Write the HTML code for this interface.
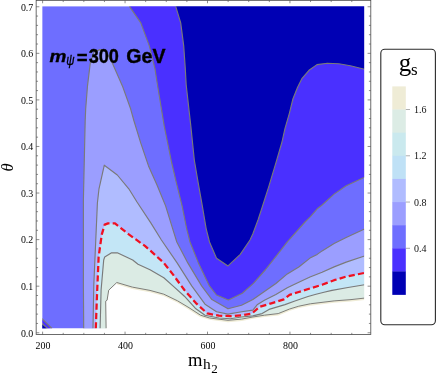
<!DOCTYPE html>
<html><head><meta charset="utf-8"><title>Contour plot</title>
<style>
html,body{margin:0;padding:0;background:#fff;}
body{width:436px;height:373px;overflow:hidden;position:relative;font-family:"Liberation Sans",sans-serif;}
</style></head><body>
<svg width="436" height="373" viewBox="0 0 436 373" style="position:absolute;left:0;top:0;will-change:transform;opacity:0.9999">
<rect x="0" y="0" width="436" height="373" fill="#fff"/>
<g>
<rect x="42.2" y="6.2" width="322.0" height="322.3" fill="#6e6eff"/>
<polygon points="129.4,6.4 140.8,22.9 149.3,45.9 155.0,68.8 157.0,82.0 164.2,125.9 171.5,162.0 176.4,182.9 182.1,205.9 186.7,228.8 190.0,242.0 198.4,262.9 209.4,285.9 216.5,295.0 228.4,300.0 242.3,293.2 253.4,283.4 265.6,269.5 276.6,255.6 287.3,241.8 305.0,222.0 310.0,217.1 317.2,208.8 322.1,205.0 334.1,194.1 346.2,185.7 364.5,177.2 366.2,177.2 366.2,4.2 129.4,4.2" fill="#4a30ff"/>
<polygon points="175.7,6.4 180.7,22.9 183.7,45.9 185.3,68.8 186.2,85.0 190.8,125.9 194.3,160.0 198.2,182.9 202.3,205.9 206.2,228.8 209.5,242.0 216.5,258.3 228.0,265.9 240.3,254.4 250.0,240.0 252.9,233.8 258.0,220.0 261.7,208.8 269.0,185.9 275.9,162.9 282.0,142.0 284.9,128.8 289.5,112.8 292.9,99.0 297.5,87.5 302.1,78.3 309.0,70.3 317.0,64.6 327.3,63.2 338.8,63.7 350.3,65.7 364.5,69.2 366.2,69.2 366.2,4.2 175.7,4.2" fill="#0000b4"/>
<polygon points="83.7,328.5 83.4,285.0 83.4,200.0 85.2,120.0 85.7,108.8 87.5,85.9 90.3,62.9 94.0,52.0 100.0,49.6 106.0,51.0 112.3,62.9 122.4,85.9 130.6,108.8 134.0,121.0 140.7,142.9 148.5,165.9 157.0,185.0 165.6,205.9 172.7,228.8 176.8,242.0 187.8,262.9 201.6,285.9 211.9,299.6 228.0,308.8 241.5,305.3 252.9,299.5 264.4,291.5 275.9,283.5 287.3,273.9 298.8,267.0 310.0,258.1 317.2,254.4 322.1,250.9 334.1,243.6 346.2,237.6 364.5,229.1 366.2,229.1 366.2,330.5 83.7,330.5" fill="#9b9eff"/>
<polygon points="93.0,328.5 93.8,285.0 97.4,203.0 99.0,188.8 104.3,165.2 117.3,175.0 128.8,188.8 137.0,202.0 150.8,222.9 161.4,240.0 177.1,262.9 191.7,285.9 205.0,304.2 216.5,311.8 228.0,314.1 241.7,311.8 252.9,310.1 257.5,304.4 264.4,300.3 275.9,294.5 287.3,287.7 298.8,282.2 310.0,277.0 322.1,272.2 334.1,266.9 346.2,262.1 364.5,256.0 366.2,256.0 366.2,330.5 93.0,330.5" fill="#b0bcff"/>
<polygon points="95.8,328.5 96.8,300.0 98.5,260.0 98.6,257.0 101.8,234.4 104.7,224.6 108.0,223.4 115.0,223.4 128.8,234.4 144.9,245.9 150.0,250.3 163.8,262.9 172.9,274.4 184.4,290.0 195.9,303.1 207.3,313.4 218.8,315.7 230.3,316.1 241.5,315.4 251.8,313.6 259.8,306.7 271.3,303.3 283.9,299.4 289.6,294.8 298.8,292.0 310.3,288.4 322.1,284.8 334.1,280.2 346.2,276.6 364.5,272.9 366.2,272.9 366.2,330.5 95.8,330.5" fill="#c3e6f6"/>
<polygon points="100.1,328.5 101.1,290.0 103.7,260.0 104.7,257.0 111.6,252.8 117.3,252.8 132.7,260.0 138.0,264.2 150.0,269.8 163.8,277.8 172.9,285.9 184.4,296.2 195.9,308.8 205.0,315.2 218.8,318.0 230.3,318.7 241.5,317.0 252.9,315.9 262.1,313.6 269.0,309.4 285.0,304.6 294.2,301.3 300.0,299.2 308.0,296.5 316.0,294.3 324.0,292.3 332.0,290.4 348.0,287.5 364.5,284.8 366.2,284.8 366.2,330.5 100.1,330.5" fill="#dbebe4"/>
<polygon points="106.1,328.5 105.7,301.2 107.1,300.2 108.7,290.2 116.8,282.5 132.3,287.1 150.0,290.4 163.8,294.2 177.5,300.8 189.0,307.7 200.5,315.2 209.6,318.0 228.0,320.3 241.7,319.1 252.9,317.0 264.4,315.2 278.2,313.6 289.6,309.0 298.8,306.2 310.3,303.8 334.1,300.9 351.0,299.6 364.5,298.1 366.2,298.1 366.2,330.5 106.1,330.5" fill="#ffffff"/>
<polyline points="116.8,283.5 132.3,288.1 150.0,291.4 163.8,295.2 177.5,301.8 189.0,308.7 200.5,316.2 209.6,319.0 228.0,321.3 241.7,320.1 252.9,318.0 264.4,316.2 278.2,314.6 289.6,310.0 298.8,307.2 310.3,304.8 334.1,301.9 351.0,300.6 364.5,299.1" fill="none" stroke="#efecd6" stroke-width="1.7" stroke-linejoin="round"/>
<polygon points="41.2,317.9 52,328.5 41.2,329.5" fill="#4a30ff"/>
<polygon points="41.2,322.7 47.6,328.5 41.2,329.5" fill="#0000b4"/>
<polyline points="175.7,6.4 180.7,22.9 183.7,45.9 185.3,68.8 186.2,85.0 190.8,125.9 194.3,160.0 198.2,182.9 202.3,205.9 206.2,228.8 209.5,242.0 216.5,258.3 228.0,265.9 240.3,254.4 250.0,240.0 252.9,233.8 258.0,220.0 261.7,208.8 269.0,185.9 275.9,162.9 282.0,142.0 284.9,128.8 289.5,112.8 292.9,99.0 297.5,87.5 302.1,78.3 309.0,70.3 317.0,64.6 327.3,63.2 338.8,63.7 350.3,65.7 364.5,69.2" fill="none" stroke="#7a7a7a" stroke-width="1.15" stroke-linejoin="round"/>
<polyline points="129.4,6.4 140.8,22.9 149.3,45.9 155.0,68.8 157.0,82.0 164.2,125.9 171.5,162.0 176.4,182.9 182.1,205.9 186.7,228.8 190.0,242.0 198.4,262.9 209.4,285.9 216.5,295.0 228.4,300.0 242.3,293.2 253.4,283.4 265.6,269.5 276.6,255.6 287.3,241.8 305.0,222.0 310.0,217.1 317.2,208.8 322.1,205.0 334.1,194.1 346.2,185.7 364.5,177.2" fill="none" stroke="#7a7a7a" stroke-width="1.15" stroke-linejoin="round"/>
<polyline points="83.7,328.5 83.4,285.0 83.4,200.0 85.2,120.0 85.7,108.8 87.5,85.9 90.3,62.9 94.0,52.0 100.0,49.6 106.0,51.0 112.3,62.9 122.4,85.9 130.6,108.8 134.0,121.0 140.7,142.9 148.5,165.9 157.0,185.0 165.6,205.9 172.7,228.8 176.8,242.0 187.8,262.9 201.6,285.9 211.9,299.6 228.0,308.8 241.5,305.3 252.9,299.5 264.4,291.5 275.9,283.5 287.3,273.9 298.8,267.0 310.0,258.1 317.2,254.4 322.1,250.9 334.1,243.6 346.2,237.6 364.5,229.1" fill="none" stroke="#7a7a7a" stroke-width="1.15" stroke-linejoin="round"/>
<polyline points="93.0,328.5 93.8,285.0 97.4,203.0 99.0,188.8 104.3,165.2 117.3,175.0 128.8,188.8 137.0,202.0 150.8,222.9 161.4,240.0 177.1,262.9 191.7,285.9 205.0,304.2 216.5,311.8 228.0,314.1 241.7,311.8 252.9,310.1 257.5,304.4 264.4,300.3 275.9,294.5 287.3,287.7 298.8,282.2 310.0,277.0 322.1,272.2 334.1,266.9 346.2,262.1 364.5,256.0" fill="none" stroke="#7a7a7a" stroke-width="1.15" stroke-linejoin="round"/>
<polyline points="100.1,328.5 101.1,290.0 103.7,260.0 104.7,257.0 111.6,252.8 117.3,252.8 132.7,260.0 138.0,264.2 150.0,269.8 163.8,277.8 172.9,285.9 184.4,296.2 195.9,308.8 205.0,315.2 218.8,318.0 230.3,318.7 241.5,317.0 252.9,315.9 262.1,313.6 269.0,309.4 285.0,304.6 294.2,301.3 300.0,299.2 308.0,296.5 316.0,294.3 324.0,292.3 332.0,290.4 348.0,287.5 364.5,284.8" fill="none" stroke="#7a7a7a" stroke-width="1.15" stroke-linejoin="round"/>
<polyline points="106.1,328.5 105.7,301.2 107.1,300.2 108.7,290.2 116.8,282.5 132.3,287.1 150.0,290.4 163.8,294.2 177.5,300.8 189.0,307.7 200.5,315.2 209.6,318.0 228.0,320.3 241.7,319.1 252.9,317.0 264.4,315.2 278.2,313.6 289.6,309.0 298.8,306.2 310.3,303.8 334.1,300.9 351.0,299.6 364.5,298.1" fill="none" stroke="#7d7d78" stroke-width="1.0" stroke-linejoin="round"/>
<polyline points="41.2,317.9 52,328.5" fill="none" stroke="#7a7a7a" stroke-width="1.15" stroke-linejoin="round"/>
<polyline points="41.2,322.7 47.6,328.5" fill="none" stroke="#7a7a7a" stroke-width="1.15" stroke-linejoin="round"/>
<polyline points="95.8,328.5 96.8,300.0 98.5,260.0 98.6,257.0 101.8,234.4 104.7,224.6 108.0,223.4 115.0,223.4 128.8,234.4 144.9,245.9 150.0,250.3 163.8,262.9 172.9,274.4 184.4,290.0 195.9,303.1 207.3,313.4 218.8,315.7 230.3,316.1 241.5,315.4 251.8,313.6 259.8,306.7 271.3,303.3 283.9,299.4 289.6,294.8 298.8,292.0 310.3,288.4 322.1,284.8 334.1,280.2 346.2,276.6 364.5,272.9" fill="none" stroke="#f01020" stroke-width="2.25" stroke-dasharray="6.2 3.2" stroke-linejoin="round"/>
</g>
<path d="M0,0H436V373H0Z M42.2,6.2V328.5H364.2V6.2Z" fill="#fff" fill-rule="evenodd"/>
<rect x="36.15" y="0.35" width="334.65000000000003" height="334.2" stroke="#484848" stroke-width="0.8" fill="none"/>
<path d="M42.60,334.55v-2.9M42.60,0.35v2.9M63.21,334.55v-1.7M63.21,0.35v1.7M83.83,334.55v-1.7M83.83,0.35v1.7M104.44,334.55v-1.7M104.44,0.35v1.7M125.05,334.55v-2.9M125.05,0.35v2.9M145.66,334.55v-1.7M145.66,0.35v1.7M166.28,334.55v-1.7M166.28,0.35v1.7M186.89,334.55v-1.7M186.89,0.35v1.7M207.50,334.55v-2.9M207.50,0.35v2.9M228.11,334.55v-1.7M228.11,0.35v1.7M248.72,334.55v-1.7M248.72,0.35v1.7M269.34,334.55v-1.7M269.34,0.35v1.7M289.95,334.55v-2.9M289.95,0.35v2.9M310.56,334.55v-1.7M310.56,0.35v1.7M331.18,334.55v-1.7M331.18,0.35v1.7M351.79,334.55v-1.7M351.79,0.35v1.7M36.15,332.75h3.2M370.8,332.75h-3.2M36.15,323.44h1.9M370.8,323.44h-1.9M36.15,314.12h1.9M370.8,314.12h-1.9M36.15,304.81h1.9M370.8,304.81h-1.9M36.15,295.49h1.9M370.8,295.49h-1.9M36.15,286.18h3.2M370.8,286.18h-3.2M36.15,276.87h1.9M370.8,276.87h-1.9M36.15,267.55h1.9M370.8,267.55h-1.9M36.15,258.24h1.9M370.8,258.24h-1.9M36.15,248.92h1.9M370.8,248.92h-1.9M36.15,239.61h3.2M370.8,239.61h-3.2M36.15,230.30h1.9M370.8,230.30h-1.9M36.15,220.98h1.9M370.8,220.98h-1.9M36.15,211.67h1.9M370.8,211.67h-1.9M36.15,202.35h1.9M370.8,202.35h-1.9M36.15,193.04h3.2M370.8,193.04h-3.2M36.15,183.73h1.9M370.8,183.73h-1.9M36.15,174.41h1.9M370.8,174.41h-1.9M36.15,165.10h1.9M370.8,165.10h-1.9M36.15,155.78h1.9M370.8,155.78h-1.9M36.15,146.47h3.2M370.8,146.47h-3.2M36.15,137.16h1.9M370.8,137.16h-1.9M36.15,127.84h1.9M370.8,127.84h-1.9M36.15,118.53h1.9M370.8,118.53h-1.9M36.15,109.21h1.9M370.8,109.21h-1.9M36.15,99.90h3.2M370.8,99.90h-3.2M36.15,90.59h1.9M370.8,90.59h-1.9M36.15,81.27h1.9M370.8,81.27h-1.9M36.15,71.96h1.9M370.8,71.96h-1.9M36.15,62.64h1.9M370.8,62.64h-1.9M36.15,53.33h3.2M370.8,53.33h-3.2M36.15,44.02h1.9M370.8,44.02h-1.9M36.15,34.70h1.9M370.8,34.70h-1.9M36.15,25.39h1.9M370.8,25.39h-1.9M36.15,16.07h1.9M370.8,16.07h-1.9M36.15,6.76h3.2M370.8,6.76h-3.2" stroke="#505050" stroke-width="0.65" fill="none"/>
<text transform="translate(43.0,348.5) scale(0.92,1)" text-anchor="middle" font-family="Liberation Serif, serif" font-size="10.8" fill="#000">200</text>
<text transform="translate(125.5,348.5) scale(0.92,1)" text-anchor="middle" font-family="Liberation Serif, serif" font-size="10.8" fill="#000">400</text>
<text transform="translate(207.9,348.5) scale(0.92,1)" text-anchor="middle" font-family="Liberation Serif, serif" font-size="10.8" fill="#000">600</text>
<text transform="translate(290.4,348.5) scale(0.92,1)" text-anchor="middle" font-family="Liberation Serif, serif" font-size="10.8" fill="#000">800</text>
<text transform="translate(33.3,336.6) scale(0.92,1)" text-anchor="end" font-family="Liberation Serif, serif" font-size="10.8" fill="#000">0.0</text>
<text transform="translate(33.3,290.0) scale(0.92,1)" text-anchor="end" font-family="Liberation Serif, serif" font-size="10.8" fill="#000">0.1</text>
<text transform="translate(33.3,243.4) scale(0.92,1)" text-anchor="end" font-family="Liberation Serif, serif" font-size="10.8" fill="#000">0.2</text>
<text transform="translate(33.3,196.8) scale(0.92,1)" text-anchor="end" font-family="Liberation Serif, serif" font-size="10.8" fill="#000">0.3</text>
<text transform="translate(33.3,150.3) scale(0.92,1)" text-anchor="end" font-family="Liberation Serif, serif" font-size="10.8" fill="#000">0.4</text>
<text transform="translate(33.3,103.7) scale(0.92,1)" text-anchor="end" font-family="Liberation Serif, serif" font-size="10.8" fill="#000">0.5</text>
<text transform="translate(33.3,57.1) scale(0.92,1)" text-anchor="end" font-family="Liberation Serif, serif" font-size="10.8" fill="#000">0.6</text>
<text transform="translate(33.3,10.6) scale(0.92,1)" text-anchor="end" font-family="Liberation Serif, serif" font-size="10.8" fill="#000">0.7</text>
<text transform="translate(12.7,171.6) rotate(-90)" font-family="Liberation Serif, serif" font-style="italic" font-size="16.6" fill="#000">θ</text>
<text x="188" y="365.7" font-family="Liberation Serif, serif" font-size="18.6" fill="#000">m</text>
<text x="203" y="368.8" font-family="Liberation Serif, serif" font-size="15.4" fill="#000">h</text>
<text x="211.2" y="372.6" font-family="Liberation Serif, serif" font-size="13" fill="#000">2</text>
<text transform="translate(49.6,61.8) scale(1.13,1)" font-size="16.8" font-style="italic" font-family="Liberation Sans, sans-serif" font-weight="bold" fill="#000" stroke="#000" stroke-width="0.35">m</text>
<text transform="translate(66.3,65.4) scale(0.8,1)" font-size="14.2" font-style="italic" font-family="Liberation Sans, sans-serif" fill="#000" stroke="#000" stroke-width="0.3">ψ</text>
<text x="76.8" y="63.8" font-size="18.5" font-family="Liberation Sans, sans-serif" font-weight="bold" fill="#000" stroke="#000" stroke-width="0.35">=</text>
<text x="88.7" y="62.8" font-size="19.6" font-family="Liberation Sans, sans-serif" font-weight="bold" fill="#000" stroke="#000" stroke-width="0.35" textLength="30.2" lengthAdjust="spacingAndGlyphs">300</text>
<text x="126.3" y="62.6" font-size="19.4" font-family="Liberation Sans, sans-serif" font-weight="bold" fill="#000" stroke="#000" stroke-width="0.35" textLength="39.2" lengthAdjust="spacingAndGlyphs">GeV</text>
<rect x="380.8" y="49.3" width="54.6" height="275.4" rx="4" ry="4" fill="#fff" stroke="#2a2a2a" stroke-width="1.1"/>
<text x="398.8" y="70.8" font-family="Liberation Serif, serif" font-size="25" fill="#000">g</text>
<text x="410.9" y="75.2" font-family="Liberation Serif, serif" font-size="17" fill="#000">s</text>
<rect x="392.3" y="86.40" width="13.5" height="23.43" fill="#efecd6"/>
<rect x="392.3" y="109.53" width="13.5" height="23.43" fill="#dcece5"/>
<rect x="392.3" y="132.66" width="13.5" height="23.43" fill="#cae9ee"/>
<rect x="392.3" y="155.79" width="13.5" height="23.43" fill="#bfe1f6"/>
<rect x="392.3" y="178.92" width="13.5" height="23.43" fill="#b0bcff"/>
<rect x="392.3" y="202.05" width="13.5" height="23.43" fill="#9b9eff"/>
<rect x="392.3" y="225.18" width="13.5" height="23.43" fill="#6e6eff"/>
<rect x="392.3" y="248.31" width="13.5" height="23.43" fill="#4a30ff"/>
<rect x="392.3" y="271.44" width="13.5" height="23.43" fill="#0000b4"/>
<path d="M405.8,109.53h4.2" stroke="#999" stroke-width="0.8"/>
<text x="414" y="113.1" font-family="Liberation Serif, serif" font-size="10" fill="#111">1.6</text>
<path d="M405.8,155.79h4.2" stroke="#999" stroke-width="0.8"/>
<text x="414" y="159.4" font-family="Liberation Serif, serif" font-size="10" fill="#111">1.2</text>
<path d="M405.8,202.05h4.2" stroke="#999" stroke-width="0.8"/>
<text x="414" y="205.7" font-family="Liberation Serif, serif" font-size="10" fill="#111">0.8</text>
<path d="M405.8,248.31h4.2" stroke="#999" stroke-width="0.8"/>
<text x="414" y="251.9" font-family="Liberation Serif, serif" font-size="10" fill="#111">0.4</text>
</svg>
</body></html>
